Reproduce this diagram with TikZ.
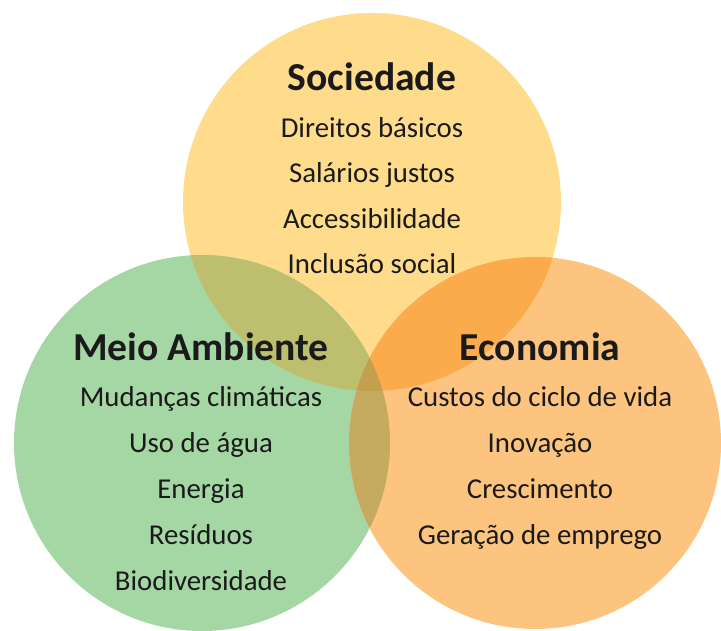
\documentclass[tikz,border=0pt]{standalone}
\usepackage{fontspec}
\setmainfont{Carlito}
\definecolor{verde}{HTML}{A5D7A5}
\definecolor{amarelo}{HTML}{FEDC8C}
\definecolor{laranja}{HTML}{FDC480}
\definecolor{verdeamarelo}{HTML}{BDBF6E}
\definecolor{verdelaranja}{HTML}{C6AA60}
\definecolor{amarelolaranja}{HTML}{FCAB4C}
\definecolor{centro}{HTML}{C3A04E}
\definecolor{texto}{HTML}{1A1A1A}
\begin{document}
\begin{tikzpicture}[x=1pt,y=-1pt,
	titulo/.style={font=\fontsize{39.6}{40}\selectfont\bfseries,anchor=base,text=texto},
	item/.style={font=\fontsize{28.8}{29}\selectfont,anchor=base,text=texto}]
	\useasboundingbox (0,0) rectangle (721,630);
	% circulos
	\fill[amarelo] (372,202) circle[radius=189pt];
	\fill[verde] (202,443) circle[radius=188pt];
	\fill[laranja] (535,443) circle[radius=186pt];
	\begin{scope}
		\clip (372,202) circle[radius=189pt];
		\fill[amarelolaranja] (535,443) circle[radius=186pt];
	\end{scope}
	\begin{scope}
		\clip (202,443) circle[radius=188pt];
		\fill[verdeamarelo] (372,202) circle[radius=189pt];
		\fill[verdelaranja] (535,443) circle[radius=186pt];
		\clip (372,202) circle[radius=189pt];
		\fill[centro] (535,443) circle[radius=186pt];
	\end{scope}
	% textos
	\node[titulo] (soc) at (372,90) {Sociedade};
	\foreach \txt [count=\i] in {Direitos básicos,Salários justos,Accessibilidade,Inclusão social}
	{
		\node[item] (soc-\i) at (372,{91.5+45.5*\i}) {\txt};
	}
	\node[titulo] (amb) at (201,360) {Meio Ambiente};
	\foreach \txt [count=\i] in {Mudanças climáticas,Uso de água,Energia,Resíduos,Biodiversidade}
	{
		\node[item] (amb-\i) at (201,{361+45.8*\i}) {\txt};
	}
	\node[titulo] (eco) at (540,360) {Economia};
	\foreach \txt [count=\i] in {Custos do ciclo de vida,Inovação,Crescimento,Geração de emprego}
	{
		\node[item] (eco-\i) at (540,{361+45.8*\i}) {\txt};
	}
\end{tikzpicture}
\end{document}
